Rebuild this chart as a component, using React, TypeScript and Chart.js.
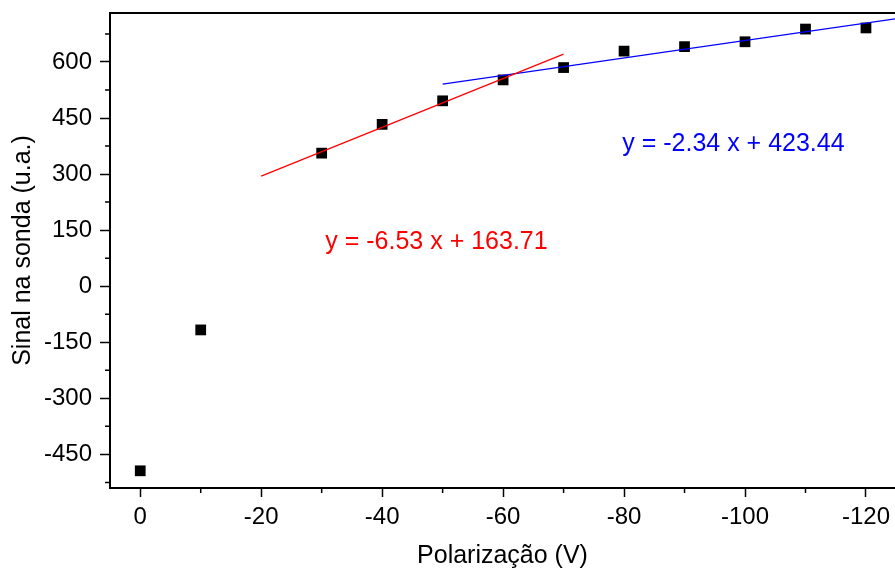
import { useEffect, useRef } from "react";
import { Chart, registerables } from "chart.js";

Chart.register(...registerables);

// ---- data ----
const voltage = [0, -10, -30, -40, -50, -60, -70, -80, -90, -100, -110, -120];
const signal = [-494, -117, 356, 433, 496, 552, 585, 629, 641, 654, 688, 691];

const redFitX = [-20, -70];
const redFitY = [294.3, 620.8];
const blueFitX = [-50, -130];
const blueFitY = [540.4, 727.6];

const xMajorTicks = [0, -20, -40, -60, -80, -100, -120];
const xMinorTicks = [-10, -30, -50, -70, -90, -110];
const yMajorTicks = [-450, -300, -150, 0, 150, 300, 450, 600];
const yMinorTicks = [-525, -375, -225, -75, 75, 225, 375, 525, 675];

const xRange = [-124.8, 5];
const yRange = [-540, 731];

const redEquation = "y = -6.53 x + 163.71";
const blueEquation = "y = -2.34 x + 423.44";
const redEquationAt = [-30.6, 100];
const blueEquationAt = [-79.7, 362];

const FAMILY = '"Liberation Sans", Arial, Helvetica, sans-serif';

const extras = {
  id: "extras",
  afterDraw(chart: any) {
    const { ctx, chartArea } = chart;
    const xs = chart.scales.x;
    const ys = chart.scales.y;
    ctx.save();
    // top frame line
    ctx.strokeStyle = "#000";
    ctx.lineWidth = 2;
    ctx.beginPath();
    ctx.moveTo(chartArea.left - 1, chartArea.top);
    ctx.lineTo(chartArea.right + 1, chartArea.top);
    ctx.stroke();
    // minor ticks
    ctx.lineWidth = 1.5;
    ctx.beginPath();
    for (const v of xMinorTicks) {
      const px = xs.getPixelForValue(v);
      ctx.moveTo(px, chartArea.bottom);
      ctx.lineTo(px, chartArea.bottom + 5);
    }
    for (const v of yMinorTicks) {
      const py = ys.getPixelForValue(v);
      ctx.moveTo(chartArea.left, py);
      ctx.lineTo(chartArea.left - 5, py);
    }
    ctx.stroke();
    // equations
    ctx.font = `25px ${FAMILY}`;
    ctx.textAlign = "left";
    ctx.textBaseline = "alphabetic";
    ctx.fillStyle = "#ff0000";
    ctx.fillText(
      redEquation,
      xs.getPixelForValue(redEquationAt[0]),
      ys.getPixelForValue(redEquationAt[1])
    );
    ctx.fillStyle = "#0000ff";
    ctx.fillText(
      blueEquation,
      xs.getPixelForValue(blueEquationAt[0]),
      ys.getPixelForValue(blueEquationAt[1])
    );
    ctx.restore();
  },
};

const zeroPad = (s: any) => {
  s.paddingTop = 0;
  s.paddingBottom = 0;
  s.paddingLeft = 0;
  s.paddingRight = 0;
};

export default function App() {
  const ref = useRef<HTMLCanvasElement>(null);
  useEffect(() => {
    if (!ref.current) return;
    const chart = new Chart(ref.current, {
      type: "scatter",
      data: {
        datasets: [
          {
            type: "line",
            data: redFitX.map((x, i) => ({ x, y: redFitY[i] })),
            borderColor: "#ff0000",
            borderWidth: 1.3,
            pointRadius: 0,
            showLine: true,
            fill: false,
          },
          {
            type: "line",
            data: blueFitX.map((x, i) => ({ x, y: blueFitY[i] })),
            borderColor: "#0000ff",
            borderWidth: 1.3,
            pointRadius: 0,
            showLine: true,
            fill: false,
          },
          {
            data: voltage.map((x, i) => ({ x, y: signal[i] })),
            pointStyle: "rect",
            pointRadius: 7.6,
            pointHoverRadius: 7.6,
            backgroundColor: "#000",
            borderColor: "#000",
            borderWidth: 0,
            showLine: false,
          },
        ] as any,
      },
      options: {
        animation: false,
        responsive: false,
        events: [],
        layout: {
          autoPadding: false,
          padding: { top: 13, left: 0, right: 0, bottom: 0 },
        },
        plugins: { legend: { display: false }, tooltip: { enabled: false } },
        scales: {
          x: {
            type: "linear",
            reverse: true,
            min: xRange[0],
            max: xRange[1],
            afterBuildTicks: (s: any) => {
              s.ticks = xMajorTicks.map((v) => ({ value: v }));
            },
            afterFit: (s: any) => {
              s.height = 84;
              zeroPad(s);
            },
            ticks: {
              color: "#000",
              font: { family: FAMILY, size: 24 },
              padding: 5.5,
              maxRotation: 0,
              autoSkip: false,
              callback: (v: any) => String(v),
            },
            grid: {
              display: true,
              drawOnChartArea: false,
              drawTicks: true,
              tickLength: 9,
              tickWidth: 1.5,
              tickColor: "#000",
            },
            border: { display: true, color: "#000", width: 2 },
            title: {
              display: true,
              text: "Polarização (V)",
              color: "#000",
              font: { family: FAMILY, size: 25 },
              padding: { top: 0, bottom: 1 },
            },
          },
          y: {
            type: "linear",
            min: yRange[0],
            max: yRange[1],
            afterBuildTicks: (s: any) => {
              s.ticks = yMajorTicks.map((v) => ({ value: v }));
            },
            afterFit: (s: any) => {
              s.width = 110;
              zeroPad(s);
            },
            ticks: {
              color: "#000",
              font: { family: FAMILY, size: 24 },
              padding: 8,
              autoSkip: false,
              callback: (v: any) => String(v),
            },
            grid: {
              display: true,
              drawOnChartArea: false,
              drawTicks: true,
              tickLength: 10,
              tickWidth: 1.5,
              tickColor: "#000",
            },
            border: { display: true, color: "#000", width: 2 },
            title: {
              display: true,
              text: "Sinal na sonda (u.a.)",
              color: "#000",
              font: { family: FAMILY, size: 25 },
              padding: { top: 8, bottom: 0 },
            },
          },
        },
      },
      plugins: [extras],
    } as any);
    return () => chart.destroy();
  }, []);
  return (
    <div
      style={{
        position: "fixed",
        left: 0,
        top: 0,
        width: 895,
        height: 572,
        background: "#fff",
        overflow: "hidden",
      }}
    >
      <canvas ref={ref} width={895} height={572} style={{ display: "block" }} />
    </div>
  );
}
